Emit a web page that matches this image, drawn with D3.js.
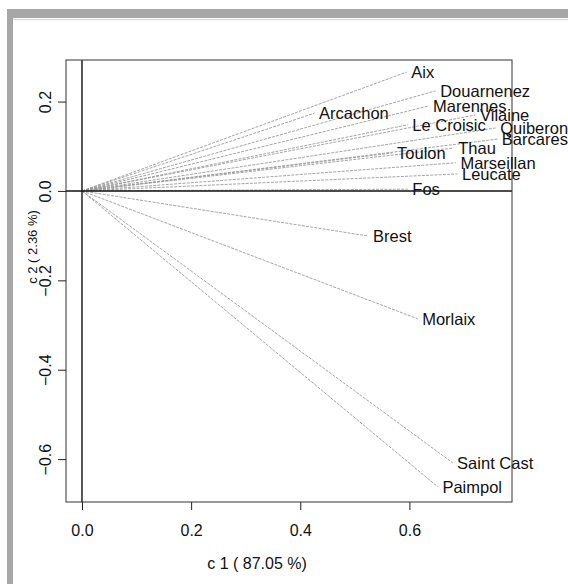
<!DOCTYPE html>
<html>
<head>
<meta charset="utf-8">
<script src="https://cdn.jsdelivr.net/npm/d3@7"></script>
<style>
  html, body { margin: 0; padding: 0; background: #fff; }
  svg { display: block; }
  text { font-family: "Liberation Sans", Arial, Helvetica, sans-serif; fill: #111; }
</style>
</head>
<body>
<svg id="chart" width="568" height="584"></svg>
<script>
// ---- data ----
const sites = ["Aix", "Douarnenez", "Marennes", "Vilaine", "Arcachon", "Le Croisic", "Quiberon",
               "Barcares", "Thau", "Toulon", "Marseillan", "Leucate", "Fos", "Brest", "Morlaix",
               "Saint Cast", "Paimpol"];
const c1 = [0.595, 0.648, 0.635, 0.721, 0.426, 0.597, 0.758,
            0.761, 0.681, 0.569, 0.685, 0.688, 0.597, 0.525, 0.615,
            0.679, 0.652];
const c2 = [0.266, 0.224, 0.190, 0.170, 0.174, 0.148, 0.141,
            0.116, 0.096, 0.085, 0.063, 0.038, 0.004, -0.101, -0.286,
            -0.608, -0.662];
const xTicks = [0.0, 0.2, 0.4, 0.6];
const yTicks = [-0.6, -0.4, -0.2, 0.0, 0.2];
const xTitle = "c 1  ( 87.05 %)";
const yTitle = "c 2 ( 2.36 %)";

// ---- layout ----
const svg = d3.select("#chart");
const box = { left: 66, right: 512, top: 60, bottom: 502 };
const x = d3.scaleLinear().domain([-0.0293, 0.788]).range([box.left, box.right]);
const y = d3.scaleLinear().domain([-0.696, 0.293]).range([box.bottom, box.top]);

// scanned page frame (grey bands top and left)
svg.append("rect").attr("x", 7).attr("y", 9).attr("width", 561).attr("height", 9).attr("fill", "#a7a7a7");
svg.append("rect").attr("x", 7).attr("y", 9).attr("width", 6).attr("height", 575).attr("fill", "#a7a7a7");
svg.append("line").attr("x1", 13).attr("x2", 568).attr("y1", 19.5).attr("y2", 19.5)
   .attr("stroke", "#d8d8d8").attr("stroke-width", 1);

// arrows (dotted grey lines from origin)
const data = sites.map((s, i) => ({ name: s, c1: c1[i], c2: c2[i] }));
svg.append("g").selectAll("line").data(data).join("line")
  .attr("x1", x(0)).attr("y1", y(0))
  .attr("x2", d => x(d.c1)).attr("y2", d => y(d.c2))
  .attr("stroke", "#9a9a9a").attr("stroke-width", 0.9)
  .attr("stroke-dasharray", "3,1.2");

// reference axes through origin
svg.append("line").attr("x1", box.left).attr("x2", box.right).attr("y1", y(0)).attr("y2", y(0))
  .attr("stroke", "#111").attr("stroke-width", 1.4);
svg.append("line").attr("x1", x(0)).attr("x2", x(0)).attr("y1", box.top).attr("y2", box.bottom)
  .attr("stroke", "#111").attr("stroke-width", 1.4);

// plot box
svg.append("rect").attr("x", box.left).attr("y", box.top)
  .attr("width", box.right - box.left).attr("height", box.bottom - box.top)
  .attr("fill", "none").attr("stroke", "#333").attr("stroke-width", 1);

// axes
const fmt = d3.format(".1f");
const gx = svg.append("g").attr("transform", `translate(0,${box.bottom})`)
  .call(d3.axisBottom(x).tickValues(xTicks).tickFormat(fmt).tickSize(8).tickSizeOuter(0).tickPadding(15));
gx.select(".domain").remove();
gx.selectAll(".tick line").attr("stroke", "#222");
gx.selectAll(".tick text").attr("font-size", "16px").attr("fill", "#111")
  .attr("font-family", "Liberation Sans, Arial, sans-serif");

const gy = svg.append("g").attr("transform", `translate(${box.left},0)`)
  .call(d3.axisLeft(y).tickValues(yTicks).tickFormat(fmt).tickSize(8).tickSizeOuter(0));
gy.select(".domain").remove();
gy.selectAll(".tick line").attr("stroke", "#222");
gy.selectAll(".tick text")
  .attr("font-size", "16px").attr("fill", "#111")
  .attr("font-family", "Liberation Sans, Arial, sans-serif")
  .attr("x", null).attr("dy", null)
  .attr("text-anchor", "middle")
  .attr("transform", "translate(-17,0) rotate(-90)")
  .attr("y", 0).attr("dy", "0.1em");

// axis titles
svg.append("text").attr("x", 257).attr("y", 569).attr("text-anchor", "middle")
  .attr("font-size", "16px").text(xTitle);
svg.append("text").attr("transform", "translate(37,247) rotate(-90)").attr("text-anchor", "middle")
  .attr("font-size", "13px").text(yTitle);

// labels at arrow tips
svg.append("g").selectAll("text").data(data).join("text")
  .attr("x", d => x(d.c1) + 4.6)
  .attr("y", d => y(d.c2))
  .attr("dy", "0.36em")
  .attr("font-size", "16.5px")
  .text(d => d.name);
</script>
</body>
</html>
